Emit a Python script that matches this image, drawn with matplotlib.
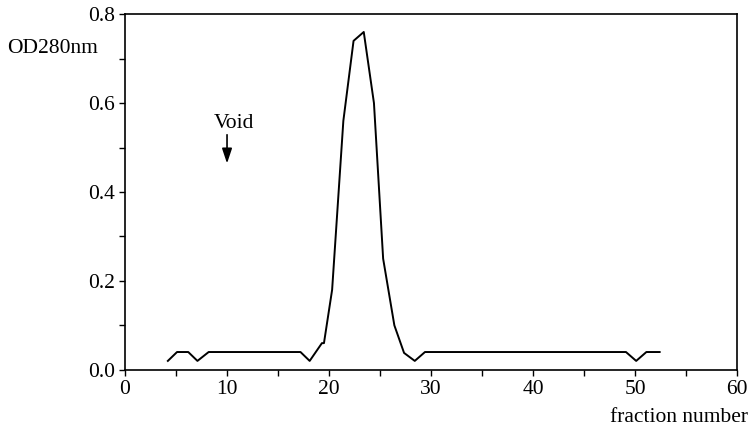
import matplotlib.pyplot as plt
from matplotlib.ticker import MultipleLocator

# elution profile (fraction, OD280)
fraction = [4.2, 5.1, 6.2, 7.1, 8.2, 17.2, 18.1, 19.3, 19.5, 20.3, 21.4,
            22.4, 23.4, 24.4, 25.3, 26.4, 27.35, 28.4, 29.4, 49.1, 50.1,
            51.1, 52.4]
od280 = [0.02, 0.04, 0.04, 0.02, 0.04, 0.04, 0.02, 0.06, 0.06, 0.18, 0.56,
         0.74, 0.76, 0.60, 0.25, 0.10, 0.038, 0.02, 0.04, 0.04, 0.02,
         0.04, 0.04]

void_x = 10
x_ticks = [0, 10, 20, 30, 40, 50, 60]
y_ticks = [0.0, 0.2, 0.4, 0.6, 0.8]

plt.rcParams['font.family'] = ['Liberation Serif', 'DejaVu Serif']

fig = plt.figure(figsize=(7.53, 4.30), dpi=100)
ax = fig.add_axes([0.166, 0.14, 0.813, 0.827])

ax.plot(fraction, od280, color='black', linewidth=1.4)

ax.set_xlim(0, 60)
ax.set_ylim(0, 0.8)
ax.set_xticks(x_ticks)
ax.set_yticks(y_ticks)
ax.set_yticklabels(['%.1f' % v for v in y_ticks])
ax.xaxis.set_minor_locator(MultipleLocator(5))
ax.yaxis.set_minor_locator(MultipleLocator(0.1))
ax.tick_params(which='both', direction='out', length=4, width=1,
               labelsize=15.5, colors='black')
ax.tick_params(axis='y', pad=3)

for sp in ax.spines.values():
    sp.set_linewidth(1.2)

# void volume marker
ax.annotate('', xy=(void_x, 0.458), xytext=(void_x, 0.535),
            arrowprops=dict(arrowstyle='-|>,head_length=0.9,head_width=0.3',
                            color='black', lw=1.2))
ax.text(void_x + 0.7, 0.555, 'Void', fontsize=15.5, ha='center', va='center')

fig.text(0.009, 0.888, 'OD280nm', fontsize=15.5, ha='left', va='center')
fig.text(0.994, 0.028, 'fraction number', fontsize=15.5, ha='right',
         va='center')

fig.savefig('out.png', dpi=100)
